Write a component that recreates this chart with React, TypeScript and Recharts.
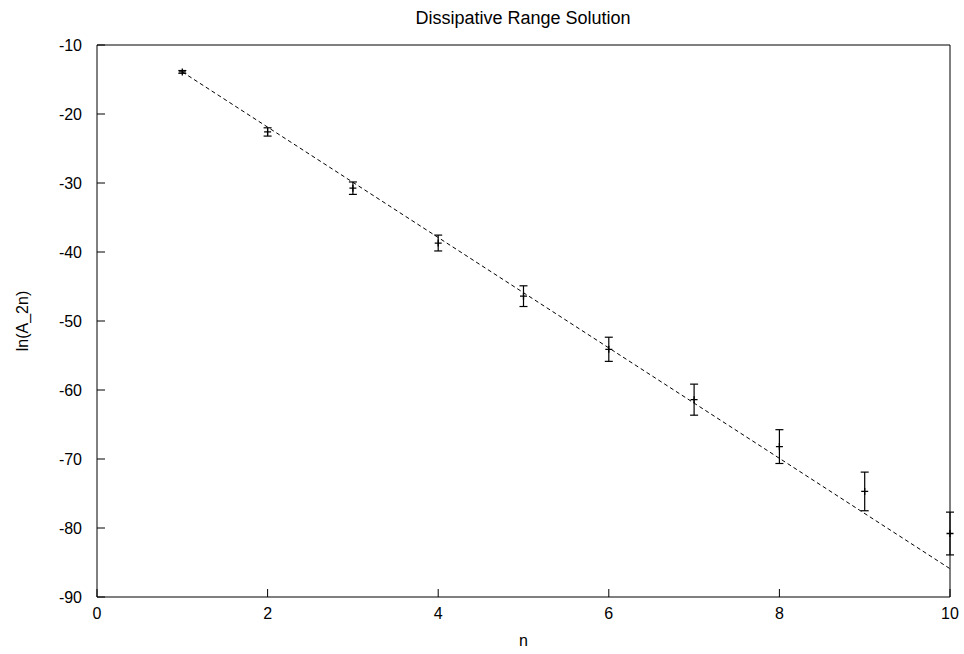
import { ComposedChart, XAxis, YAxis, Scatter, ErrorBar, Line, Label } from "recharts";

// measured points (n, ln(A_2n), error)
const nValues = [1, 2, 3, 4, 5, 6, 7, 8, 9, 10];
const lnA2n = [-13.9, -22.6, -30.75, -38.7, -46.4, -54.1, -61.4, -68.2, -74.7, -80.8];
const errors = [0.2, 0.6, 0.9, 1.15, 1.5, 1.75, 2.25, 2.45, 2.8, 3.1];

// fitted line
const fitN = [1, 10];
const fitY = [-13.9, -85.9];

const xTicks = [0, 2, 4, 6, 8, 10];
const yTicks = [-90, -80, -70, -60, -50, -40, -30, -20, -10];

const points = nValues.map((n, i) => ({ n, y: lnA2n[i], err: errors[i] }));
const fit = fitN.map((n, i) => ({ n, fit: fitY[i] }));

const tickStyle = { fill: "#000", fontSize: 16 };

const Plus = (props: any) => {
    const { cx, cy } = props;
    if (cx == null || cy == null) return null;
    return (
        <path
            d={`M${cx - 3.5},${cy}h7M${cx},${cy - 3.5}v7`}
            stroke="#000"
            strokeWidth={1.3}
            fill="none"
        />
    );
};

export default function App() {
    return (
        <div
            style={{
                position: "absolute",
                left: 0,
                top: 0,
                width: 964,
                height: 654,
                background: "#fff",
                fontFamily: "'Liberation Sans', Arial, sans-serif",
            }}
        >
            <div
                style={{
                    position: "absolute",
                    left: 273,
                    width: 500,
                    top: 9,
                    textAlign: "center",
                    fontSize: 18,
                    lineHeight: "18px",
                    color: "#000",
                }}
            >
                Dissipative Range Solution
            </div>
            <ComposedChart
                width={964}
                height={654}
                margin={{ top: 0, right: 0, bottom: 0, left: 0 }}
            >
                <XAxis
                    xAxisId="b"
                    dataKey="n"
                    type="number"
                    domain={[0, 10]}
                    ticks={xTicks}
                    height={57}
                    stroke="#000"
                    tickSize={-8}
                    tickMargin={19}
                    tick={tickStyle}
                >
                    <Label value="n" position="insideBottom" offset={8} fill="#000" fontSize={16} />
                </XAxis>
                <XAxis
                    xAxisId="t"
                    orientation="top"
                    dataKey="n"
                    type="number"
                    domain={[0, 10]}
                    ticks={xTicks}
                    height={45}
                    stroke="#000"
                    tickSize={-8}
                    tick={false}
                />
                <YAxis
                    yAxisId="l"
                    type="number"
                    domain={[-90, -10]}
                    ticks={yTicks}
                    width={97}
                    stroke="#000"
                    tickSize={-8}
                    tickMargin={23}
                    tick={tickStyle}
                >
                    <Label
                        value="ln(A_2n)"
                        angle={-90}
                        position="insideLeft"
                        offset={22}
                        fill="#000"
                        fontSize={16}
                        style={{ textAnchor: "middle" }}
                    />
                </YAxis>
                <YAxis
                    yAxisId="r"
                    orientation="right"
                    type="number"
                    domain={[-90, -10]}
                    ticks={yTicks}
                    width={14}
                    stroke="#000"
                    tickSize={-8}
                    tick={false}
                />
                <Line
                    xAxisId="b"
                    yAxisId="l"
                    data={fit}
                    dataKey="fit"
                    stroke="#000"
                    strokeWidth={1}
                    strokeDasharray="4 3"
                    dot={false}
                    isAnimationActive={false}
                />
                <Scatter
                    xAxisId="b"
                    yAxisId="l"
                    data={points}
                    dataKey="y"
                    shape={<Plus />}
                    isAnimationActive={false}
                >
                    <ErrorBar
                        dataKey="err"
                        direction="y"
                        width={4}
                        stroke="#000"
                        strokeWidth={1.2}
                        isAnimationActive={false}
                    />
                </Scatter>
            </ComposedChart>
        </div>
    );
}
